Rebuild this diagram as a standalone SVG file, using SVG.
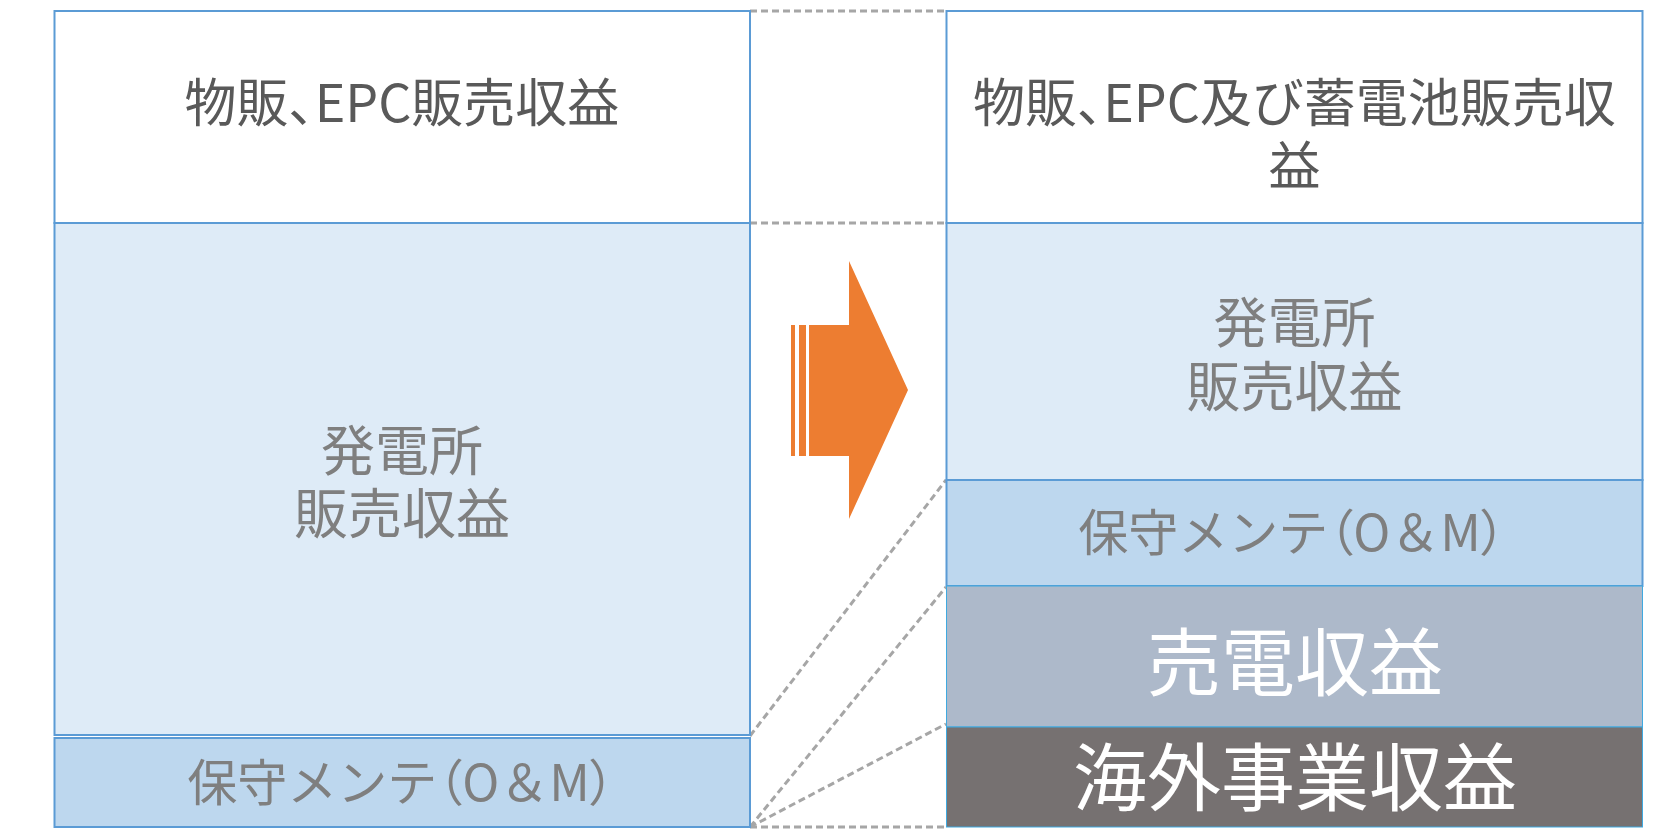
<svg xmlns="http://www.w3.org/2000/svg" width="1665" height="829" viewBox="0 0 1665 829">
<style>
text{font-family:"Noto Sans CJK JP","Noto Sans",sans-serif;text-anchor:middle}
.p{font-feature-settings:"palt"}
.box{stroke:#5B9BD5;stroke-width:2}
.w{fill:#FFFFFF}.l1{fill:#DEEBF7}.l2{fill:#BDD7EE}
.sell{fill:#ADB9CA;stroke:#3FA9E0;stroke-width:1}
.ovs{fill:#767171;stroke:#3FA9E0;stroke-width:1}
.dk{fill:#595959;font-size:52px}
.gy{fill:#7F7F7F;font-size:54px}
.om{fill:#7F7F7F;font-size:50px}
.wt{fill:#FFFFFF;font-size:74px}
.dash{stroke:#A6A6A6;stroke-width:3;stroke-dasharray:7 4;fill:none}
</style>
<rect width="1665" height="829" fill="#FFFFFF"/>
<g id="connectors">
<line class="dash" x1="750" y1="11" x2="946" y2="11"/>
<line class="dash" x1="750" y1="223" x2="946" y2="223"/>
<line class="dash" x1="750" y1="736" x2="946" y2="480"/>
<line class="dash" x1="750" y1="827" x2="946" y2="587"/>
<line class="dash" x1="750" y1="827" x2="946" y2="724"/>
<line class="dash" x1="750" y1="827" x2="946" y2="827"/>
</g>
<g id="left-sales">
<rect class="box w" x="54.5" y="11" width="695.5" height="212"/>
<text class="dk" x="402" y="122">物販<tspan class="p">、</tspan>EPC販売収益</text>
</g>
<g id="left-plant">
<rect class="box l1" x="54.5" y="223" width="695.5" height="512"/>
<text class="gy" x="402" y="471">発電所<tspan x="402" dy="63">販売収益</tspan></text>
</g>
<g id="left-om">
<rect class="box l2" x="54.5" y="738" width="695.5" height="89"/>
<text class="om" x="401" y="801">保守メンテ<tspan class="p">（</tspan>O＆M<tspan class="p">）</tspan></text>
</g>
<g id="arrow">
<rect x="791" y="325" width="4" height="131" fill="#ED7D31"/>
<rect x="799" y="325" width="7" height="131" fill="#ED7D31"/>
<polygon points="809,325 849,325 849,261 908,390 849,519 849,456 809,456" fill="#ED7D31"/>
</g>
<g id="right-sales">
<rect class="box w" x="946.5" y="11" width="696" height="212"/>
<text class="dk" x="1294.5" y="122">物販<tspan class="p">、</tspan>EPC及び蓄電池販売収<tspan x="1294.5" dy="63">益</tspan></text>
</g>
<g id="right-plant">
<rect class="box l1" x="946.5" y="223" width="696" height="257"/>
<text class="gy" x="1294.5" y="343">発電所<tspan x="1294.5" dy="64">販売収益</tspan></text>
</g>
<g id="right-om">
<rect class="box l2" x="946.5" y="480" width="696" height="106"/>
<text class="om" x="1292" y="551">保守メンテ<tspan class="p">（</tspan>O＆M<tspan class="p">）</tspan></text>
</g>
<g id="right-power">
<rect class="sell" x="946.5" y="586" width="696" height="141"/>
<text class="wt" x="1295" y="690">売電収益</text>
</g>
<g id="right-overseas">
<rect class="ovs" x="946.5" y="727" width="696" height="100"/>
<text class="wt" x="1295" y="805">海外事業収益</text>
</g>
</svg>
